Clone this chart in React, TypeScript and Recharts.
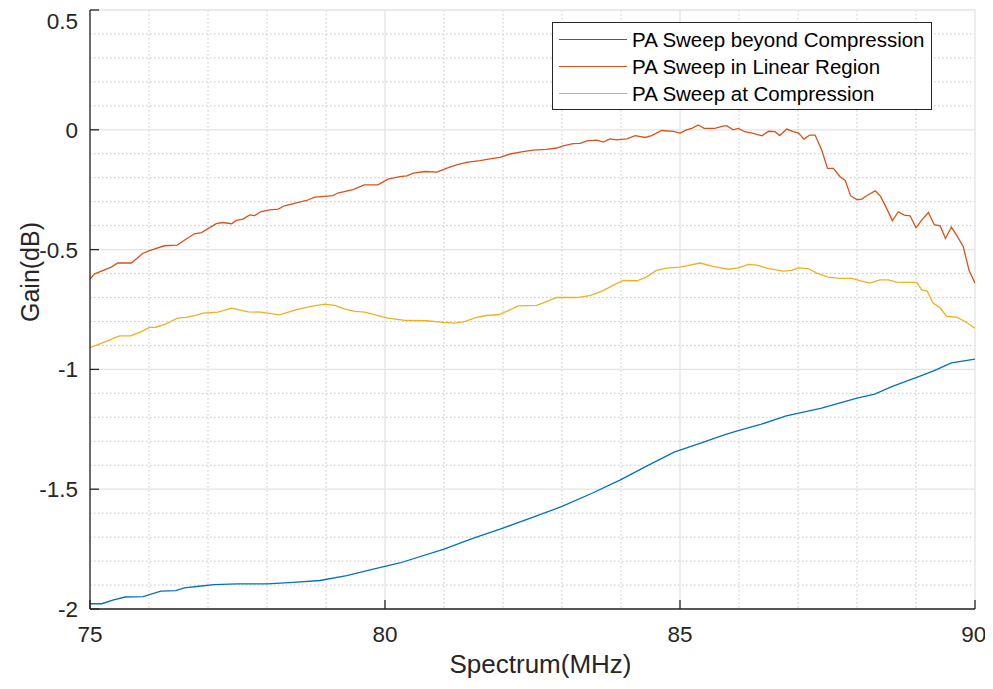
import {
  CartesianGrid,
  Legend,
  Line,
  LineChart,
  XAxis,
  YAxis,
} from "recharts";

// MHz / dB
const blueFreq = [
  75.0, 75.2, 75.4, 75.6, 75.9, 76.2, 76.45, 76.6, 76.85, 77.1, 77.5, 78.0,
  78.45, 78.9, 79.35, 79.8, 80.25, 81.0, 81.5, 82.0, 82.5, 83.0, 83.5, 84.0,
  84.4, 84.9, 85.35, 85.75, 86.0, 86.35, 86.8, 87.4, 88.0, 88.3, 88.6, 89.0,
  89.3, 89.6, 90.0,
];
const blueGain = [
  -1.978, -1.978, -1.962, -1.95, -1.948, -1.925, -1.923, -1.912, -1.905,
  -1.898, -1.895, -1.895, -1.889, -1.881, -1.861, -1.834, -1.808, -1.75,
  -1.704, -1.662, -1.618, -1.572, -1.518, -1.46, -1.408, -1.345, -1.308,
  -1.273, -1.255, -1.231, -1.194, -1.162, -1.12, -1.103, -1.071, -1.034,
  -1.006, -0.973, -0.957,
];

const orangeFreq = [
  75.0, 75.08, 75.36, 75.47, 75.7, 75.9, 76.01, 76.26, 76.48, 76.63, 76.77,
  76.89, 77.14, 77.25, 77.4, 77.48, 77.59, 77.71, 77.79, 77.9, 78.05, 78.19,
  78.3, 78.53, 78.67, 78.81, 78.98, 79.12, 79.2, 79.46, 79.65, 79.88, 80.05,
  80.25, 80.37, 80.48, 80.68, 80.88, 81.05, 81.21, 81.38, 81.61, 81.78, 81.95,
  82.12, 82.29, 82.51, 82.74, 82.91, 83.02, 83.19, 83.31, 83.42, 83.59, 83.7,
  83.81, 83.93, 84.1, 84.24, 84.41, 84.52, 84.69, 84.89, 85.0, 85.11, 85.2,
  85.31, 85.41, 85.59, 85.71, 85.79, 85.9, 85.99, 86.1, 86.22, 86.3, 86.39,
  86.5, 86.61, 86.69, 86.81, 86.92, 87.01, 87.1, 87.2, 87.29, 87.4, 87.5,
  87.6, 87.71, 87.8, 87.89, 88.0, 88.08, 88.19, 88.31, 88.4, 88.5, 88.6,
  88.7, 88.8, 88.9, 89.0, 89.1, 89.21, 89.31, 89.41, 89.5, 89.6, 89.7, 89.8,
  89.9, 90.0,
];
const orangeGain = [
  -0.623, -0.601, -0.573, -0.556, -0.556, -0.515, -0.504, -0.484, -0.481,
  -0.456, -0.434, -0.429, -0.392, -0.387, -0.392, -0.378, -0.373, -0.355,
  -0.358, -0.341, -0.334, -0.331, -0.317, -0.303, -0.295, -0.281, -0.278,
  -0.275, -0.264, -0.25, -0.23, -0.23, -0.206, -0.195, -0.192, -0.181, -0.174,
  -0.177, -0.16, -0.146, -0.136, -0.129, -0.121, -0.115, -0.101, -0.093,
  -0.085, -0.082, -0.076, -0.067, -0.058, -0.057, -0.046, -0.043, -0.051,
  -0.038, -0.042, -0.038, -0.024, -0.032, -0.024, -0.003, -0.007, -0.014,
  0.0, 0.006, 0.02, 0.006, 0.006, 0.014, 0.017, 0.0, 0.006, -0.008, -0.014,
  -0.019, -0.025, -0.006, -0.008, -0.024, 0.003, -0.008, -0.014, -0.039,
  -0.022, -0.022, -0.083, -0.161, -0.161, -0.195, -0.211, -0.275, -0.292,
  -0.289, -0.271, -0.255, -0.278, -0.327, -0.379, -0.342, -0.356, -0.359,
  -0.409, -0.376, -0.345, -0.396, -0.401, -0.454, -0.406, -0.445, -0.487,
  -0.587, -0.64,
];

const yellowFreq = [
  75.0, 75.19, 75.5, 75.69, 75.87, 76.01, 76.12, 76.29, 76.48, 76.63, 76.77,
  76.92, 77.17, 77.4, 77.68, 77.9, 78.21, 78.5, 78.75, 78.98, 79.15, 79.32,
  79.49, 79.66, 79.83, 80.05, 80.37, 80.71, 80.99, 81.19, 81.36, 81.55, 81.72,
  81.92, 82.06, 82.26, 82.57, 82.74, 82.91, 83.25, 83.47, 83.7, 83.87, 84.04,
  84.27, 84.43, 84.6, 84.77, 85.0, 85.11, 85.34, 85.56, 85.82, 85.99, 86.16,
  86.3, 86.5, 86.75, 86.89, 87.01, 87.17, 87.32, 87.51, 87.71, 87.91, 88.08,
  88.22, 88.39, 88.53, 88.67, 88.79, 89.01, 89.1, 89.19, 89.29, 89.41, 89.52,
  89.69, 89.83, 90.0,
];
const yellowGain = [
  -0.909, -0.891, -0.86, -0.86, -0.842, -0.825, -0.824, -0.81, -0.786, -0.783,
  -0.776, -0.765, -0.761, -0.744, -0.76, -0.761, -0.772, -0.751, -0.737,
  -0.728, -0.733, -0.748, -0.758, -0.761, -0.772, -0.786, -0.796, -0.797,
  -0.804, -0.807, -0.8, -0.783, -0.775, -0.772, -0.758, -0.735, -0.733,
  -0.717, -0.7, -0.7, -0.692, -0.671, -0.648, -0.629, -0.63, -0.615, -0.587,
  -0.577, -0.573, -0.568, -0.556, -0.57, -0.582, -0.576, -0.562, -0.565,
  -0.579, -0.59, -0.587, -0.576, -0.579, -0.598, -0.615, -0.62, -0.62, -0.632,
  -0.64, -0.626, -0.626, -0.636, -0.637, -0.637, -0.668, -0.673, -0.723,
  -0.744, -0.779, -0.782, -0.8, -0.828,
];

const xTicks = [75, 80, 85, 90];
const yTicks = [-2, -1.5, -1, -0.5, 0, 0.5];
const xMinor = [76, 77, 78, 79, 81, 82, 83, 84, 86, 87, 88, 89];
const yMinor = [
  0.4, 0.3, 0.2, 0.1, -0.1, -0.2, -0.3, -0.4, -0.6, -0.7, -0.8, -0.9, -1.1,
  -1.2, -1.3, -1.4, -1.6, -1.7, -1.8, -1.9,
];

const seriesNames = [
  "PA Sweep beyond Compression",
  "PA Sweep in Linear Region",
  "PA Sweep at Compression",
];
const seriesColors = ["#0072BD", "#D95319", "#EDB120"];

const toPoints = (freq: number[], gain: number[]) =>
  freq.map((f, i) => ({ f, g: gain[i] }));

const series = [
  toPoints(blueFreq, blueGain),
  toPoints(orangeFreq, orangeGain),
  toPoints(yellowFreq, yellowGain),
];

const font = "'Liberation Sans', Arial, sans-serif";
const ink = "#262626";

function LegendBox() {
  return (
    <div
      style={{
        width: 380,
        height: 88,
        boxSizing: "border-box",
        border: `1px solid ${ink}`,
        background: "#fff",
        padding: "3px 6px 2px 6px",
        fontFamily: font,
        fontSize: 20.5,
        color: "#000",
      }}
    >
      {seriesNames.map((name, i) => (
        <div
          key={name}
          style={{ display: "flex", alignItems: "center", height: 27 }}
        >
          <span
            style={{
              width: 68,
              borderTop: `1.3px solid ${seriesColors[i]}`,
              marginRight: 5,
            }}
          />
          <span style={{ whiteSpace: "nowrap" }}>{name}</span>
        </div>
      ))}
    </div>
  );
}

export default function App() {
  const tickStyle = { fontFamily: font, fontSize: 22.5, fill: ink };
  return (
    <LineChart
      width={977}
      height={673}
      margin={{ top: 2, right: 10, bottom: 0, left: 0 }}
      style={{ fontFamily: font }}
    >
      <CartesianGrid
        stroke="#c4c4c4"
        strokeDasharray="1.5 2.5"
        horizontalValues={yMinor}
        verticalValues={xMinor}
      />
      <CartesianGrid stroke="#e3e3e3" strokeWidth={1.3} />
      <XAxis
        type="number"
        dataKey="f"
        domain={[75, 90]}
        ticks={xTicks}
        allowDataOverflow
        height={72}
        stroke={ink}
        strokeWidth={1.3}
        tickSize={-9}
        tickMargin={26}
        tick={tickStyle}
        label={{
          content: (p: any) => {
            const vb = p.viewBox;
            const cx = vb.x + vb.width / 2 + 8;
            return (
              <text
                x={cx}
                y={665}
                textAnchor="middle"
                fontFamily={font}
                fontSize={26}
                fill={ink}
              >
                Spectrum(MHz)
              </text>
            );
          },
        }}
      />
      <YAxis
        type="number"
        dataKey="g"
        domain={[-2, 0.5]}
        ticks={yTicks}
        allowDataOverflow
        width={82}
        stroke={ink}
        strokeWidth={1.3}
        tickSize={-9}
        tickMargin={21}
        tick={tickStyle}
        label={{
          content: () => {
            const cx = 22;
            const cy = 264;
            return (
              <text
                x={cx}
                y={cy}
                transform={`rotate(-90, ${cx}, ${cy})`}
                textAnchor="middle"
                dominantBaseline="central"
                fontFamily={font}
                fontSize={25}
                fill={ink}
              >
                Gain(dB)
              </text>
            );
          },
        }}
      />
      {series.map((pts, i) => (
        <Line
          key={seriesNames[i]}
          data={pts}
          dataKey="g"
          name={seriesNames[i]}
          stroke={seriesColors[i]}
          strokeWidth={1.3}
          dot={false}
          activeDot={false}
          type="linear"
          isAnimationActive={false}
        />
      ))}
      <Legend
        layout="vertical"
        verticalAlign="middle"
        align="center"
        wrapperStyle={{ top: 14, left: 544, width: 380 }}
        content={() => <LegendBox />}
      />
    </LineChart>
  );
}
